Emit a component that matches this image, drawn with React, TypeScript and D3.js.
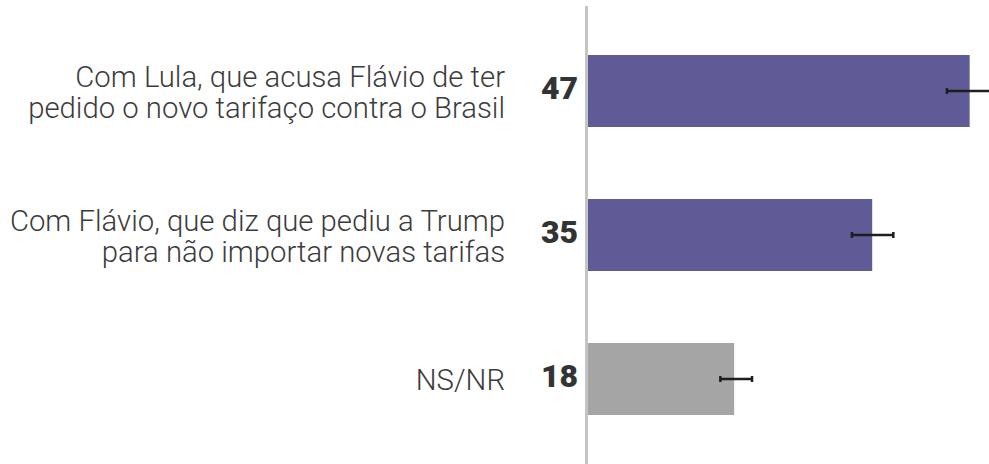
import * as d3 from "d3";
import { useEffect, useRef } from "react";

const categories = ["lula", "flavio", "nsnr"];
const labelLines = [
  ["Com Lula, que acusa Flávio de ter", "pedido o novo tarifaço contra o Brasil"],
  ["Com Flávio, que diz que pediu a Trump", "para não importar novas tarifas"],
  ["NS/NR"],
];
const values = [47, 35, 18];
const errLow = [44.2, 32.5, 16.3];
const errHigh = [49.8, 37.6, 20.2];
const barColors = ["#5f5b97", "#5f5b97", "#a5a5a5"];

const width = 989;
const height = 464;

export default function App() {
  const svgRef = useRef<SVGSVGElement>(null);

  useEffect(() => {
    if (!svgRef.current) return;
    const svg = d3.select(svgRef.current);
    svg.selectAll("*").remove();

    const x0 = 588;
    const xScale = d3.scaleLinear().domain([0, 50]).range([x0, x0 + 406]);
    const yScale = d3
      .scaleBand<string>()
      .domain(categories)
      .range([19, 451])
      .paddingInner(0.5)
      .paddingOuter(0.25);

    const rows = categories.map((c, i) => ({
      key: c,
      lines: labelLines[i],
      value: values[i],
      lo: errLow[i],
      hi: errHigh[i],
      color: barColors[i],
    }));

    // bars
    svg
      .selectAll(".bar")
      .data(rows)
      .enter()
      .append("rect")
      .attr("class", "bar")
      .attr("x", xScale(0))
      .attr("y", (d) => yScale(d.key)!)
      .attr("width", (d) => xScale(d.value) - xScale(0))
      .attr("height", yScale.bandwidth())
      .style("fill", (d) => d.color);

    // axis line
    svg
      .append("line")
      .attr("x1", xScale(0) - 1.5)
      .attr("x2", xScale(0) - 1.5)
      .attr("y1", 6)
      .attr("y2", height)
      .style("stroke", "#c4c4c4")
      .style("stroke-width", 3);

    // error bars
    const err = svg.selectAll(".err").data(rows).enter().append("g").attr("class", "err");
    const cy = (d: { key: string }) => yScale(d.key)! + yScale.bandwidth() / 2;
    err
      .append("line")
      .attr("x1", (d) => xScale(d.lo))
      .attr("x2", (d) => xScale(d.hi))
      .attr("y1", cy)
      .attr("y2", cy)
      .style("stroke", "#1e1e1e")
      .style("stroke-width", 2.5);
    ["lo", "hi"].forEach((k) => {
      err
        .append("line")
        .attr("x1", (d: any) => xScale(d[k]))
        .attr("x2", (d: any) => xScale(d[k]))
        .attr("y1", (d) => cy(d) - 3)
        .attr("y2", (d) => cy(d) + 3)
        .style("stroke", "#1e1e1e")
        .style("stroke-width", 2.5);
    });

    // value labels
    svg
      .selectAll(".val")
      .data(rows)
      .enter()
      .append("text")
      .attr("class", "val")
      .attr("x", 578)
      .attr("y", (d) => cy(d) + 8)
      .attr("text-anchor", "end")
      .style("font-family", "Roboto, sans-serif")
      .style("font-weight", 900)
      .style("font-size", "32px")
      .style("fill", "#333333")
      .text((d) => d.value);

    // category labels
    const lab = svg
      .selectAll(".lab")
      .data(rows)
      .enter()
      .append("text")
      .attr("class", "lab")
      .attr("text-anchor", "end")
      .style("font-family", "Roboto, sans-serif")
      .style("font-weight", 300)
      .style("font-size", "29.3px")
      .style("fill", "#3c3c3c");
    lab
      .selectAll("tspan")
      .data((d) => d.lines.map((t, i) => ({ t, i, n: d.lines.length, c: cy(d) })))
      .enter()
      .append("tspan")
      .attr("x", 505)
      .attr("y", (l) => l.c + 11 + (l.i - (l.n - 1) / 2) * 31)
      .text((l) => l.t);
  }, []);

  return (
    <div style={{ position: "absolute", left: 0, top: 0, background: "#fff" }}>
      <svg ref={svgRef} width={width} height={height} style={{ display: "block" }} />
    </div>
  );
}
